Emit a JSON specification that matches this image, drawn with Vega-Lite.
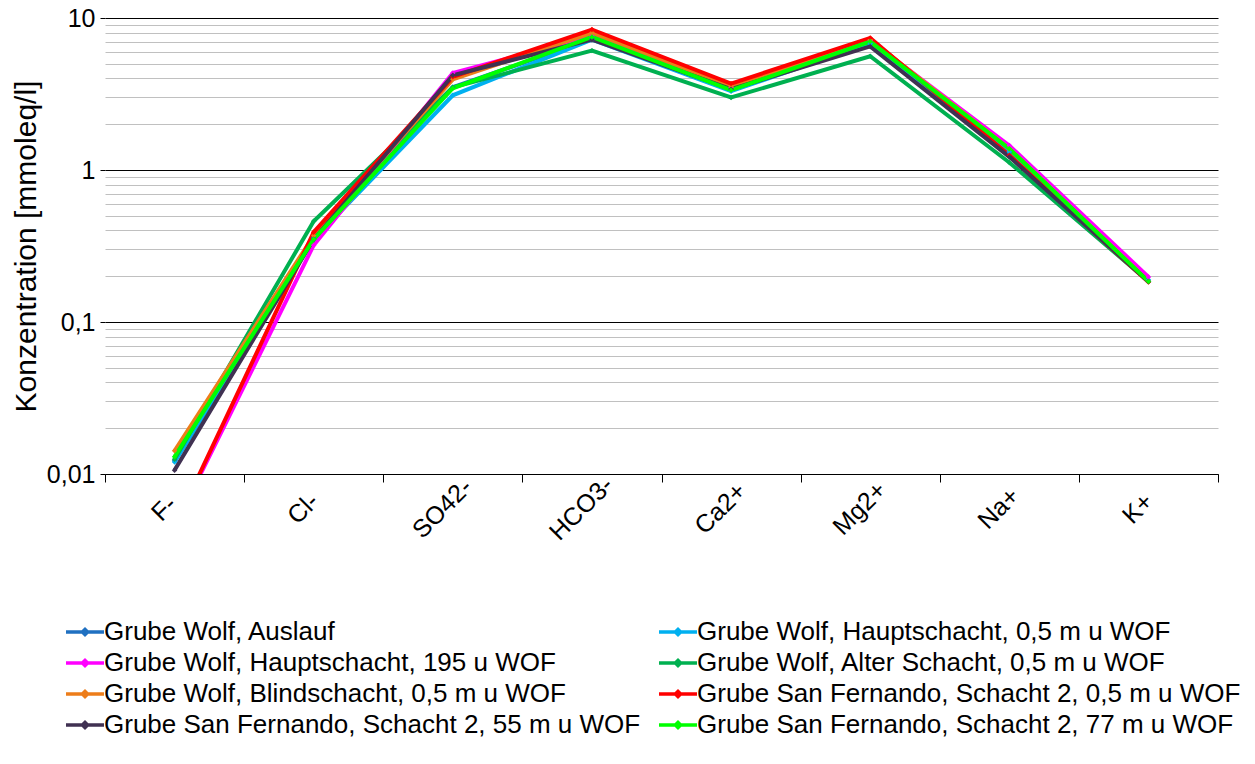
{
  "$schema": "https://vega.github.io/schema/vega-lite/v6.json",
  "width": 1113,
  "height": 456,
  "autosize": {"type": "none"},
  "padding": {"left": 105, "top": 18, "right": 37, "bottom": 290},
  "background": "white",
  "config": {
    "font": "Liberation Sans",
    "view": {"stroke": null}
  },
  "data": {
    "values": [
      {"s": "Grube Wolf, Auslauf", "ion": "F-", "v": 0.0122},
      {"s": "Grube Wolf, Auslauf", "ion": "Cl-", "v": 0.36},
      {"s": "Grube Wolf, Auslauf", "ion": "SO42-", "v": 3.5},
      {"s": "Grube Wolf, Auslauf", "ion": "HCO3-", "v": 7.3},
      {"s": "Grube Wolf, Auslauf", "ion": "Ca2+", "v": 3.4},
      {"s": "Grube Wolf, Auslauf", "ion": "Mg2+", "v": 6.8},
      {"s": "Grube Wolf, Auslauf", "ion": "Na+", "v": 1.3},
      {"s": "Grube Wolf, Auslauf", "ion": "K+", "v": 0.185},

      {"s": "Grube Wolf, Hauptschacht, 0,5 m u WOF", "ion": "F-", "v": 0.012},
      {"s": "Grube Wolf, Hauptschacht, 0,5 m u WOF", "ion": "Cl-", "v": 0.35},
      {"s": "Grube Wolf, Hauptschacht, 0,5 m u WOF", "ion": "SO42-", "v": 3.1},
      {"s": "Grube Wolf, Hauptschacht, 0,5 m u WOF", "ion": "HCO3-", "v": 7.2},
      {"s": "Grube Wolf, Hauptschacht, 0,5 m u WOF", "ion": "Ca2+", "v": 3.3},
      {"s": "Grube Wolf, Hauptschacht, 0,5 m u WOF", "ion": "Mg2+", "v": 6.8},
      {"s": "Grube Wolf, Hauptschacht, 0,5 m u WOF", "ion": "Na+", "v": 1.32},
      {"s": "Grube Wolf, Hauptschacht, 0,5 m u WOF", "ion": "K+", "v": 0.19},

      {"s": "Grube Wolf, Hauptschacht, 195 u WOF", "ion": "F-", "v": 0.0045},
      {"s": "Grube Wolf, Hauptschacht, 195 u WOF", "ion": "Cl-", "v": 0.32},
      {"s": "Grube Wolf, Hauptschacht, 195 u WOF", "ion": "SO42-", "v": 4.35},
      {"s": "Grube Wolf, Hauptschacht, 195 u WOF", "ion": "HCO3-", "v": 7.6},
      {"s": "Grube Wolf, Hauptschacht, 195 u WOF", "ion": "Ca2+", "v": 3.5},
      {"s": "Grube Wolf, Hauptschacht, 195 u WOF", "ion": "Mg2+", "v": 7.1},
      {"s": "Grube Wolf, Hauptschacht, 195 u WOF", "ion": "Na+", "v": 1.45},
      {"s": "Grube Wolf, Hauptschacht, 195 u WOF", "ion": "K+", "v": 0.198},

      {"s": "Grube Wolf, Alter Schacht, 0,5 m u WOF", "ion": "F-", "v": 0.0125},
      {"s": "Grube Wolf, Alter Schacht, 0,5 m u WOF", "ion": "Cl-", "v": 0.46},
      {"s": "Grube Wolf, Alter Schacht, 0,5 m u WOF", "ion": "SO42-", "v": 3.5},
      {"s": "Grube Wolf, Alter Schacht, 0,5 m u WOF", "ion": "HCO3-", "v": 6.1},
      {"s": "Grube Wolf, Alter Schacht, 0,5 m u WOF", "ion": "Ca2+", "v": 3.0},
      {"s": "Grube Wolf, Alter Schacht, 0,5 m u WOF", "ion": "Mg2+", "v": 5.6},
      {"s": "Grube Wolf, Alter Schacht, 0,5 m u WOF", "ion": "Na+", "v": 1.12},
      {"s": "Grube Wolf, Alter Schacht, 0,5 m u WOF", "ion": "K+", "v": 0.185},

      {"s": "Grube Wolf, Blindschacht, 0,5 m u WOF", "ion": "F-", "v": 0.0142},
      {"s": "Grube Wolf, Blindschacht, 0,5 m u WOF", "ion": "Cl-", "v": 0.37},
      {"s": "Grube Wolf, Blindschacht, 0,5 m u WOF", "ion": "SO42-", "v": 3.95},
      {"s": "Grube Wolf, Blindschacht, 0,5 m u WOF", "ion": "HCO3-", "v": 8.0},
      {"s": "Grube Wolf, Blindschacht, 0,5 m u WOF", "ion": "Ca2+", "v": 3.55},
      {"s": "Grube Wolf, Blindschacht, 0,5 m u WOF", "ion": "Mg2+", "v": 7.2},
      {"s": "Grube Wolf, Blindschacht, 0,5 m u WOF", "ion": "Na+", "v": 1.38},
      {"s": "Grube Wolf, Blindschacht, 0,5 m u WOF", "ion": "K+", "v": 0.185},

      {"s": "Grube San Fernando, Schacht 2, 0,5 m u WOF", "ion": "F-", "v": 0.0045},
      {"s": "Grube San Fernando, Schacht 2, 0,5 m u WOF", "ion": "Cl-", "v": 0.39},
      {"s": "Grube San Fernando, Schacht 2, 0,5 m u WOF", "ion": "SO42-", "v": 4.1},
      {"s": "Grube San Fernando, Schacht 2, 0,5 m u WOF", "ion": "HCO3-", "v": 8.4},
      {"s": "Grube San Fernando, Schacht 2, 0,5 m u WOF", "ion": "Ca2+", "v": 3.7},
      {"s": "Grube San Fernando, Schacht 2, 0,5 m u WOF", "ion": "Mg2+", "v": 7.4},
      {"s": "Grube San Fernando, Schacht 2, 0,5 m u WOF", "ion": "Na+", "v": 1.25},
      {"s": "Grube San Fernando, Schacht 2, 0,5 m u WOF", "ion": "K+", "v": 0.183},

      {"s": "Grube San Fernando, Schacht 2, 55 m u WOF", "ion": "F-", "v": 0.0106},
      {"s": "Grube San Fernando, Schacht 2, 55 m u WOF", "ion": "Cl-", "v": 0.35},
      {"s": "Grube San Fernando, Schacht 2, 55 m u WOF", "ion": "SO42-", "v": 4.2},
      {"s": "Grube San Fernando, Schacht 2, 55 m u WOF", "ion": "HCO3-", "v": 7.2},
      {"s": "Grube San Fernando, Schacht 2, 55 m u WOF", "ion": "Ca2+", "v": 3.4},
      {"s": "Grube San Fernando, Schacht 2, 55 m u WOF", "ion": "Mg2+", "v": 6.5},
      {"s": "Grube San Fernando, Schacht 2, 55 m u WOF", "ion": "Na+", "v": 1.22},
      {"s": "Grube San Fernando, Schacht 2, 55 m u WOF", "ion": "K+", "v": 0.185},

      {"s": "Grube San Fernando, Schacht 2, 77 m u WOF", "ion": "F-", "v": 0.013},
      {"s": "Grube San Fernando, Schacht 2, 77 m u WOF", "ion": "Cl-", "v": 0.35},
      {"s": "Grube San Fernando, Schacht 2, 77 m u WOF", "ion": "SO42-", "v": 3.45},
      {"s": "Grube San Fernando, Schacht 2, 77 m u WOF", "ion": "HCO3-", "v": 7.5},
      {"s": "Grube San Fernando, Schacht 2, 77 m u WOF", "ion": "Ca2+", "v": 3.35},
      {"s": "Grube San Fernando, Schacht 2, 77 m u WOF", "ion": "Mg2+", "v": 7.0},
      {"s": "Grube San Fernando, Schacht 2, 77 m u WOF", "ion": "Na+", "v": 1.38},
      {"s": "Grube San Fernando, Schacht 2, 77 m u WOF", "ion": "K+", "v": 0.185}
    ]
  },
  "mark": {
    "type": "line",
    "strokeWidth": 4,
    "clip": true,
    "point": {"shape": "diamond", "size": 30, "filled": true}
  },
  "encoding": {
    "x": {
      "field": "ion",
      "type": "nominal",
      "sort": ["F-", "Cl-", "SO42-", "HCO3-", "Ca2+", "Mg2+", "Na+", "K+"],
      "scale": {"type": "band", "paddingInner": 0, "paddingOuter": 0},
      "axis": {
        "title": null,
        "labelAngle": -45,
        "labelAlign": "center",
        "labelBaseline": "middle",
        "labelFontSize": 25,
        "labelColor": "black",
        "labelPadding": 26,
        "labelOffset": -11,
        "domainColor": "black",
        "domainWidth": 1,
        "tickBand": "extent",
        "tickColor": "black",
        "tickSize": 8,
        "grid": false
      }
    },
    "y": {
      "field": "v",
      "type": "quantitative",
      "scale": {"type": "log", "domain": [0.01, 10], "nice": false},
      "axis": {
        "title": "Konzentration [mmoleq/l]",
        "titleFontSize": 30,
        "titleFontWeight": "normal",
        "titleColor": "black",
        "titlePadding": 5,
        "values": [0.01, 0.02, 0.03, 0.04, 0.05, 0.06, 0.07, 0.08, 0.09, 0.1, 0.2, 0.3, 0.4, 0.5, 0.6, 0.7, 0.8, 0.9, 1, 2, 3, 4, 5, 6, 7, 8, 9, 10],
        "labelExpr": "datum.value == 0.01 ? '0,01' : datum.value == 0.1 ? '0,1' : datum.value == 1 ? '1' : datum.value == 10 ? '10' : ''",
        "labelFontSize": 25,
        "labelColor": "black",
        "labelPadding": 5,
        "domain": false,
        "grid": true,
        "gridColor": {"condition": {"test": "datum.value == 0.01 || datum.value == 0.1 || datum.value == 1 || datum.value == 10", "value": "black"}, "value": "#c0c0c0"},
        "gridWidth": 1,
        "tickColor": "black",
        "tickSize": 5,
        "tickOpacity": {"condition": {"test": "datum.value == 0.01 || datum.value == 0.1 || datum.value == 1 || datum.value == 10", "value": 1}, "value": 0}
      }
    },
    "color": {
      "field": "s",
      "type": "nominal",
      "scale": {
        "domain": [
          "Grube Wolf, Auslauf",
          "Grube Wolf, Hauptschacht, 195 u WOF",
          "Grube Wolf, Blindschacht, 0,5 m u WOF",
          "Grube San Fernando, Schacht 2, 55 m u WOF",
          "Grube Wolf, Hauptschacht, 0,5 m u WOF",
          "Grube Wolf, Alter Schacht, 0,5 m u WOF",
          "Grube San Fernando, Schacht 2, 0,5 m u WOF",
          "Grube San Fernando, Schacht 2, 77 m u WOF"
        ],
        "range": ["#1F70C1", "#FF00FF", "#ED7D1A", "#403152", "#00B0F0", "#00B050", "#FF0000", "#00FF00"]
      },
      "legend": {
        "title": null,
        "orient": "none",
        "legendX": -33,
        "legendY": 601,
        "columns": 2,
        "columnPadding": 11,
        "rowPadding": 5,
        "labelFontSize": 26,
        "labelColor": "black",
        "labelLimit": 0,
        "labelOffset": 6,
        "symbolType": "M-1.9,0H1.9M-0.26,0L0,-0.26L0.26,0L0,0.26Z",
        "symbolSize": 400,
        "symbolStrokeWidth": 3.5,
        "encode": {
          "symbols": {"update": {"fill": {"scale": "color", "field": "value"}, "opacity": {"value": 1}}}
        }
      }
    }
  }
}
